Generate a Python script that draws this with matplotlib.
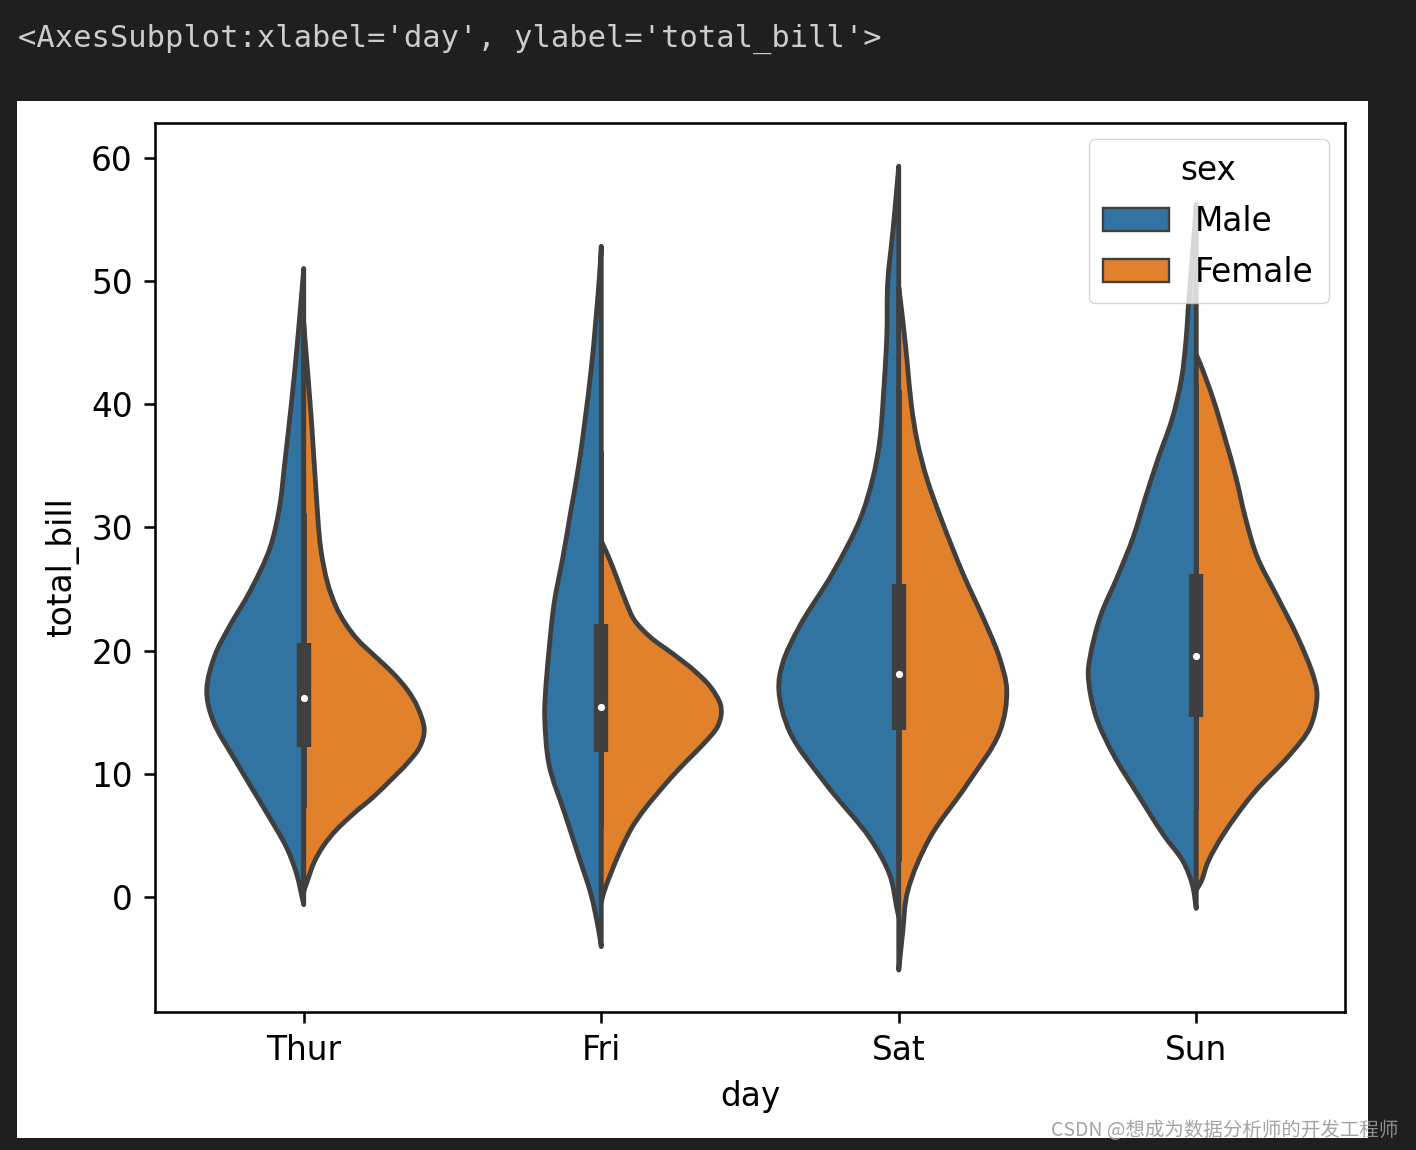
"""
Split violin of total_bill by day and sex, as shown in a notebook cell output.

The violin outlines are read off the screenshot: for each half a list of
bill values (y) and the half-width at that value (in category units).
"""

import matplotlib
matplotlib.use('Agg')
import matplotlib.pyplot as plt
from matplotlib.path import Path
from matplotlib.patches import PathPatch, Patch, Rectangle
import numpy as np

plt.rcParams.update({
    'font.family': 'DejaVu Sans',
    'font.size': 23.6,
    'axes.linewidth': 1.84,
    'xtick.major.size': 8,
    'ytick.major.size': 8,
    'xtick.major.width': 1.84,
    'ytick.major.width': 1.84,
    'xtick.major.pad': 8,
    'ytick.major.pad': 8,
    'axes.labelpad': 9,
})

# ============================================================
# Data
# ============================================================
days = ['Thur', 'Fri', 'Sat', 'Sun']
sexes = ['Male', 'Female']

# Male halves (left side)
thur_m_y = [-0.6, 1.9, 4.0, 7.4, 10.9, 14.4, 16.8, 19.6, 22.0, 24.8, 28.3, 31.7, 35.2, 40.4, 45.6, 51.0]
thur_m_w = [0, .024, .057, .138, .225, .306, .326, .299, .249, .181, .114, .081, .064, .040, .019, 0]
fri_m_y = [-4.0, -2.5, 0.2, 3.2, 6.9, 10.7, 14.5, 16.4, 20.2, 23.9, 27.7, 31.5, 35.3, 42.8, 50.4, 52.8]
fri_m_w = [0, .010, .034, .074, .124, .175, .190, .188, .175, .158, .128, .101, .074, .034, .006, 0]
sat_m_y = [-1.6, -0.8, 1.8, 4.8, 9.1, 13.4, 16.8, 19.0, 22.0, 26.3, 30.6, 34.0, 37.0, 41.3, 45.6, 49.9, 54.2, 59.3]
sat_m_w = [0, .007, .030, .097, .242, .366, .403, .390, .333, .222, .131, .087, .064, .050, .040, .037, .019, 0]
sun_m_y = [-0.9, 1.0, 2.9, 5.1, 8.4, 11.6, 14.8, 18.0, 19.6, 22.8, 26.0, 29.2, 32.4, 35.6, 38.8, 42.0, 45.3, 47.8, 52.0, 56.2]
sun_m_w = [0, .013, .044, .111, .198, .279, .339, .363, .356, .322, .265, .212, .171, .128, .081, .050, .034, .027, .013, 0]

# Female halves (right side)
thur_f_y = [0.5, 1.4, 2.8, 4.1, 5.4, 6.8, 8.1, 9.5, 10.9, 12.2, 13.6, 15.4, 16.8, 18.2, 19.5, 20.9,
            22.2, 23.6, 25.5, 28.3, 33.4, 38.6, 46.5]
thur_f_w = [0, .013, .034, .064, .107, .168, .232, .292, .349, .390, .405, .383, .349, .299, .242, .181,
            .140, .108, .080, .057, .040, .026, 0]
fri_f_y = [-0.4, 0.5, 1.8, 3.0, 4.4, 5.7, 7.1, 8.4, 9.8, 11.1, 12.5, 13.8, 14.8, 15.7, 17.1, 18.4,
           19.8, 21.1, 22.5, 23.9, 25.8, 27.7, 28.9]
fri_f_w = [0, .010, .030, .050, .076, .104, .144, .188, .238, .289, .346, .390, .403, .400, .366, .312,
           .238, .165, .111, .084, .054, .023, 0]
sat_f_y = [-5.9, -2.9, 0.5, 4.8, 9.1, 13.4, 16.8, 19.4, 22.0, 26.3, 30.6, 34.0, 37.0, 40.0, 43.5, 46.5, 49.5]
sat_f_w = [0, .013, .030, .104, .228, .339, .363, .339, .296, .215, .144, .094, .062, .042, .028, .015, 0]
sun_f_y = [0.6, 1.3, 2.9, 5.1, 8.4, 11.6, 13.8, 16.4, 18.0, 21.2, 24.4, 27.6, 30.8, 34.0, 37.2, 40.4, 43.3, 44.0]
sun_f_w = [0, .017, .040, .091, .191, .316, .383, .406, .393, .339, .272, .205, .165, .134, .097, .057, .013, 0]

# Inner box (pooled over sex)
q1 = [12.2, 11.8, 13.6, 14.6]
median = [16.2, 15.4, 18.1, 19.6]
q3 = [20.6, 22.2, 25.4, 26.2]
whisk_lo = [7.5, 5.8, 3.1, 7.3]
whisk_hi = [31.0, 36.0, 41.0, 41.5]

male_halves = [(thur_m_y, thur_m_w), (fri_m_y, fri_m_w), (sat_m_y, sat_m_w), (sun_m_y, sun_m_w)]
female_halves = [(thur_f_y, thur_f_w), (fri_f_y, fri_f_w), (sat_f_y, sat_f_w), (sun_f_y, sun_f_w)]

# ============================================================
# Style
# ============================================================
colors = {'Male': '#3274a1', 'Female': '#e1812c'}
gray = '#3f3f3f'
lw = 3.45
ASPECT = 24.2   # screen pixels per width unit / pixels per bill unit


def half_violin(center, ys, ws, side):
    """Closed path for one half of a split violin: centripetal Catmull-Rom
    through the knots, handed to matplotlib as cubic Bezier segments."""
    p = np.column_stack([np.asarray(ws, float) * ASPECT, np.asarray(ys, float)])
    ext = np.vstack([2 * p[0] - p[1], p, 2 * p[-1] - p[-2]])

    def to_xy(q):
        return (center + side * q[0] / ASPECT, q[1])

    verts = [to_xy(p[0])]
    codes = [Path.MOVETO]
    for k in range(len(p) - 1):
        p0, p1, p2, p3 = ext[k], ext[k + 1], ext[k + 2], ext[k + 3]
        d1 = max(np.linalg.norm(p1 - p0) ** 0.5, 1e-6)
        d2 = max(np.linalg.norm(p2 - p1) ** 0.5, 1e-6)
        d3 = max(np.linalg.norm(p3 - p2) ** 0.5, 1e-6)
        b1 = (d1 ** 2 * p2 - d2 ** 2 * p0 + (2 * d1 ** 2 + 3 * d1 * d2 + d2 ** 2) * p1) / (3 * d1 * (d1 + d2))
        b2 = (d3 ** 2 * p1 - d2 ** 2 * p3 + (2 * d3 ** 2 + 3 * d3 * d2 + d2 ** 2) * p2) / (3 * d3 * (d3 + d2))
        verts += [to_xy(b1), to_xy(b2), to_xy(p2)]
        codes += [Path.CURVE4] * 3
    verts += [(center, ys[0]), (0, 0)]
    codes += [Path.LINETO, Path.CLOSEPOLY]
    return Path(verts, codes)


# ============================================================
# Plot
# ============================================================
fig = plt.figure(figsize=(14.16, 11.5), dpi=100, facecolor='#1f1f1f')

# white image area of the notebook output
fig.patches.append(Rectangle((17 / 1416, 1 - 1138 / 1150), 1351 / 1416, 1037 / 1150,
                             transform=fig.transFigure, facecolor='white',
                             edgecolor='none', zorder=-10))

fig.text(18 / 1416, 1 - 39 / 1150, "<AxesSubplot:xlabel='day', ylabel='total_bill'>",
         family='DejaVu Sans Mono', fontsize=22, color='#cccccc', va='center', ha='left')

ax = fig.add_axes([155 / 1416, 1 - 1012 / 1150, 1190 / 1416, 889 / 1150])
ax.set_zorder(1)
ax.set_facecolor('white')

for i, day in enumerate(days):
    for (ys, ws), side, sex in [(male_halves[i], -1, 'Male'), (female_halves[i], 1, 'Female')]:
        ax.add_patch(PathPatch(half_violin(i, ys, ws, side), facecolor=colors[sex],
                               edgecolor=gray, linewidth=lw, joinstyle='round', zorder=1))
    ax.plot([i, i], [whisk_lo[i], whisk_hi[i]], color=gray, lw=lw, zorder=2)
    ax.plot([i, i], [q1[i], q3[i]], color=gray, lw=lw * 3, solid_capstyle='butt', zorder=2)
    ax.scatter([i], [median[i]], s=45, color='white', edgecolor=gray, linewidth=1.5, zorder=3)

ax.set_xlim(-0.5, 3.5)
ax.set_ylim(-9.3, 62.8)
ax.set_xticks(range(len(days)))
ax.set_xticklabels(days)
ax.set_yticks(np.arange(0, 61, 10))
ax.set_xlabel('day')
ax.set_ylabel('total_bill')

handles = [Patch(facecolor=colors[s], edgecolor=gray, linewidth=1.7, label=s) for s in sexes]
ax.legend(handles=handles, title='sex', loc='upper right', fontsize=23.6, title_fontsize=23.6,
          labelspacing=0.54, borderpad=0.45)

fig.text(1398 / 1416, 1 - 1130 / 1150, 'CSDN @想成为数据分析师的开发工程师',
         family=['Noto Sans CJK SC', 'DejaVu Sans'], fontsize=14, color='#9a9a9a',
         alpha=0.9, ha='right', va='center', zorder=5)

fig.savefig('out.png', dpi=100, facecolor=fig.get_facecolor())
plt.close(fig)
